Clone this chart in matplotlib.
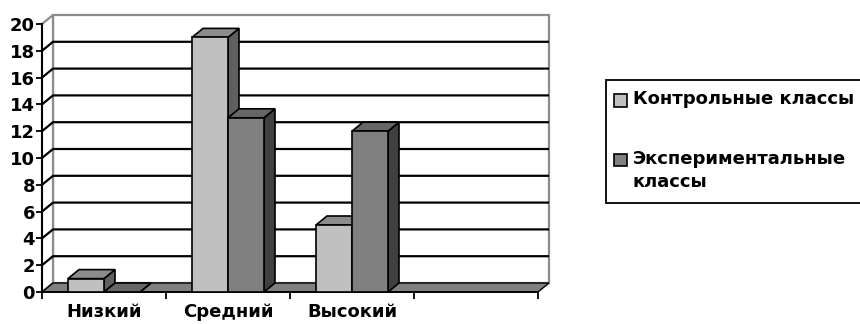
import matplotlib
matplotlib.use("Agg")
import matplotlib.pyplot as plt
from matplotlib.patches import Polygon, Rectangle

# Data
categories = ["Низкий", "Средний", "Высокий", ""]
control = [1, 19, 5, None]
experimental = [0, 13, 12, None]
series_names = ["Контрольные классы", "Экспериментальные\nклассы"]
y_ticks = list(range(0, 21, 2))

# Shading for the pseudo-3D columns: (front, top, side)
shades = [("#c0c0c0", "#8c8c8c", "#606060"),
          ("#808080", "#666666", "#404040")]

W, H = 860, 324
FONT = "DejaVu Sans"


def fx(px):
    return px / W


def fy(py):
    return 1 - py / H


fig = plt.figure(figsize=(W / 100, H / 100), dpi=100)
fig.patch.set_facecolor("white")

ax = fig.add_axes([fx(42), fy(292), 496 / W, 268 / H])
ax.set_xlim(0, len(categories))
ax.set_ylim(0, 20)
ax.set_facecolor("none")

# depth of the 3D box expressed in data units (about 11 px right, 9 px up)
px_per_cat = 496 / len(categories)
px_per_unit = 268 / 20
dxd = 11 / px_per_cat
dyd = 9 / px_per_unit
ncat = len(categories)

# back wall and left side wall
ax.add_patch(Polygon([(dxd, dyd), (ncat + dxd, dyd), (ncat + dxd, 20 + dyd), (dxd, 20 + dyd)],
                     closed=True, facecolor="white", edgecolor="#8c8c8c", lw=1.6,
                     clip_on=False, zorder=0.5))
ax.add_patch(Polygon([(0, 0), (dxd, dyd), (dxd, 20 + dyd), (0, 20)],
                     closed=True, facecolor="white", edgecolor="#8c8c8c", lw=1.6,
                     clip_on=False, zorder=0.5))

# gridlines running across side wall and back wall
for v in y_ticks[1:-1]:
    ax.plot([0, dxd, ncat + dxd], [v, v + dyd, v + dyd], color="black", lw=1.6,
            clip_on=False, zorder=0.8, solid_capstyle="butt")

# floor
ax.add_patch(Polygon([(0, 0), (ncat, 0), (ncat + dxd, dyd), (dxd, dyd)],
                     closed=True, facecolor="#808080", edgecolor="black", lw=1.0,
                     clip_on=False, zorder=0.9))

# columns
gap = 26 / px_per_cat
bw = 36 / px_per_cat
for i in range(ncat):
    for s, values in enumerate([control, experimental]):
        v = values[i]
        if v is None:
            continue
        front, top, side = shades[s]
        x0 = i + gap + s * bw
        z = 2 + i + 0.1 * s
        ax.add_patch(Polygon([(x0 + bw, 0), (x0 + bw + dxd, dyd), (x0 + bw + dxd, v + dyd), (x0 + bw, v)],
                             closed=True, facecolor=side, edgecolor="black", lw=1.2,
                             joinstyle="miter", clip_on=False, zorder=z))
        ax.add_patch(Polygon([(x0, v), (x0 + bw, v), (x0 + bw + dxd, v + dyd), (x0 + dxd, v + dyd)],
                             closed=True, facecolor=top, edgecolor="black", lw=1.2,
                             joinstyle="miter", clip_on=False, zorder=z))
        if v > 0:
            ax.add_patch(Rectangle((x0, 0), bw, v, facecolor=front, edgecolor="black", lw=1.2,
                                   joinstyle="miter", clip_on=False, zorder=z + 0.05))

# axes lines and ticks
for side_name in ["top", "right"]:
    ax.spines[side_name].set_visible(False)
for side_name in ["left", "bottom"]:
    ax.spines[side_name].set_color("black")
    ax.spines[side_name].set_linewidth(1.4)
    ax.spines[side_name].set_zorder(1.5)

ax.set_yticks(y_ticks)
ax.set_yticklabels([str(t) for t in y_ticks], fontsize=13, fontweight="bold", family=FONT)
ax.tick_params(axis="y", length=4, width=1.3, pad=1, colors="black")

ax.set_xticks([i + 0.5 for i in range(ncat)])
ax.set_xticklabels(categories, fontsize=13, fontweight="bold", family=FONT)
ax.set_xticks(list(range(ncat + 1)), minor=True)
ax.tick_params(axis="x", which="major", length=0, pad=8)
ax.tick_params(axis="x", which="minor", length=5, width=1.3)

# legend box
fig.add_artist(Rectangle((fx(606), fy(203)), (880 - 606) / W, (203 - 80) / H,
                         transform=fig.transFigure, facecolor="white", edgecolor="black",
                         lw=1.3, clip_on=False))
legend_y = [100, 160]
for s, (name, yc) in enumerate(zip(series_names, legend_y)):
    fig.add_artist(Rectangle((fx(614), fy(yc + 6.5)), 13 / W, 13 / H,
                             transform=fig.transFigure, facecolor=shades[s][0],
                             edgecolor="black", lw=1.2))
    fig.text(fx(633), fy(yc - 9.5), name, fontsize=13, fontweight="bold", family=FONT,
             va="top", ha="left", linespacing=1.3)

fig.savefig("out.png", dpi=100)
